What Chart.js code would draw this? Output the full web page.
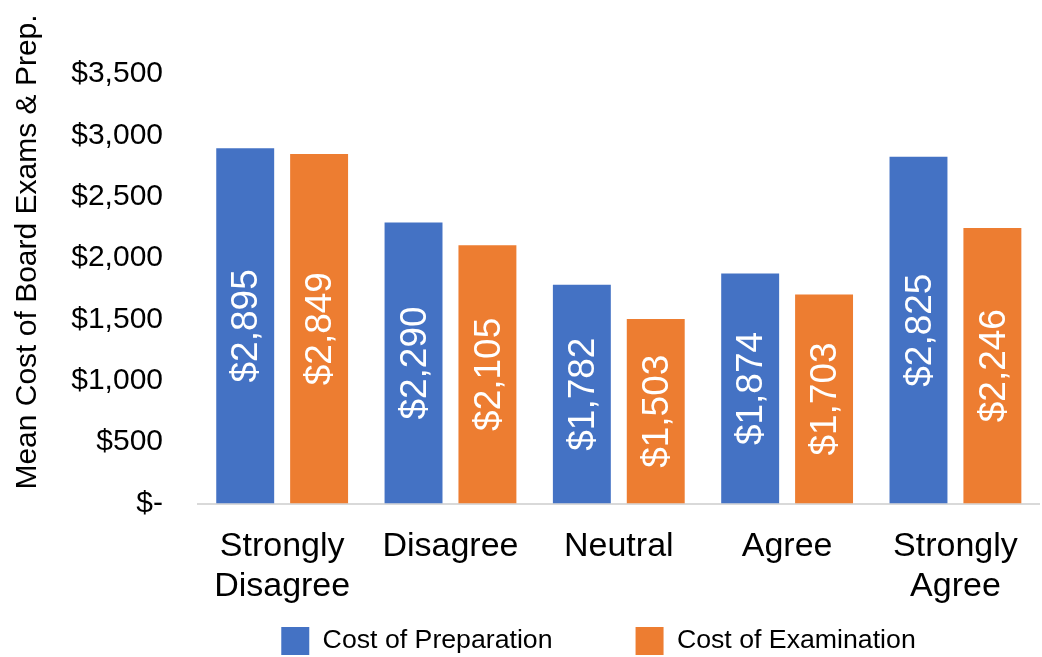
<!DOCTYPE html>
<html><head><meta charset="utf-8">
<script src="https://cdn.jsdelivr.net/npm/chart.js@4.4.0/dist/chart.umd.min.js"></script>
<style>html,body{margin:0;padding:0;background:#fff;} #wrap{width:1042px;height:657px;position:relative}</style>
</head><body><div id="wrap"><canvas id="c"></canvas></div>
<script>
const categories = [['Strongly','Disagree'], 'Disagree', 'Neutral', 'Agree', ['Strongly','Agree']];
const seriesNames = ['Cost of Preparation', 'Cost of Examination'];
const preparation = [2895, 2290, 1782, 1874, 2825];
const examination = [2849, 2105, 1503, 1703, 2246];
const yTickValues = [0, 500, 1000, 1500, 2000, 2500, 3000, 3500];
const yAxisTitle = 'Mean Cost of Board Exams & Prep.';
const seriesColors = ['#4472C4', '#ED7D31'];
const FONT = "'Liberation Sans', Arial, sans-serif";

function money(v) { return v === 0 ? '$-' : '$' + Number(v).toLocaleString('en-US'); }

const legendShift = {
  id: 'legendShift',
  afterLayout(chart) {
    const lg = chart.legend;
    if (!lg) return;
    lg.left = 155; lg.right = 1042;
    lg.top = 544; lg.bottom = 657;
    lg.width = lg.right - lg.left;
    lg.height = lg.bottom - lg.top;
  }
};

const barLabels = {
  id: 'barLabels',
  afterDatasetsDraw(chart) {
    const ctx = chart.ctx;
    ctx.save();
    ctx.fillStyle = '#ffffff';
    ctx.font = '37px ' + FONT;
    ctx.textAlign = 'center';
    ctx.textBaseline = 'middle';
    chart.data.datasets.forEach((ds, di) => {
      const meta = chart.getDatasetMeta(di);
      meta.data.forEach((bar, i) => {
        const cy = (bar.y + bar.base) / 2;
        ctx.save();
        ctx.translate(bar.x, cy);
        ctx.rotate(-Math.PI / 2);
        ctx.fillText(money(ds.data[i]), 0, 2);
        ctx.restore();
      });
    });
    ctx.restore();
  }
};

const yTitle = {
  id: 'yTitle',
  afterDraw(chart) {
    const ctx = chart.ctx;
    ctx.save();
    ctx.fillStyle = '#000000';
    ctx.font = '30px ' + FONT;
    ctx.textAlign = 'center';
    ctx.textBaseline = 'middle';
    ctx.translate(28, 252);
    ctx.rotate(-Math.PI / 2);
    ctx.fillText(yAxisTitle, 0, 0);
    ctx.restore();
  }
};

new Chart(document.getElementById('c'), {
  type: 'bar',
  data: {
    labels: categories,
    datasets: [
      { label: seriesNames[0], data: preparation, backgroundColor: seriesColors[0], borderWidth: 0,
        categoryPercentage: 0.878, barPercentage: 0.784 },
      { label: seriesNames[1], data: examination, backgroundColor: seriesColors[1], borderWidth: 0,
        categoryPercentage: 0.878, barPercentage: 0.784 }
    ]
  },
  options: {
    responsive: true,
    maintainAspectRatio: false,
    animation: false,
    devicePixelRatio: 1,
    layout: { padding: { top: 74, left: 0, right: 2, bottom: 0 } },
    plugins: {
      legend: {
        position: 'bottom',
        maxHeight: 38,
        labels: {
          boxWidth: 28, boxHeight: 28, padding: 83,
          color: '#000', font: { size: 26.7, family: FONT }
        }
      },
      tooltip: { enabled: false }
    },
    scales: {
      x: {
        grid: { display: false, drawTicks: false },
        border: { display: true, color: '#D9D9D9', width: 2 },
        ticks: { color: '#000', font: { size: 34, family: FONT, lineHeight: 1.15 }, padding: 24, maxRotation: 0, autoSkip: false },
        afterFit(scale) { scale.height = 115.5; }
      },
      y: {
        min: 0, max: 3500,
        grid: { display: false, drawTicks: false },
        border: { display: false },
        afterBuildTicks(scale) { scale.ticks = yTickValues.map(v => ({ value: v })); },
        ticks: { color: '#000', font: { size: 30, family: FONT }, padding: 35, callback: (v) => money(v) },
        afterFit(scale) { scale.width = 198; }
      }
    }
  },
  plugins: [legendShift, barLabels, yTitle]
});
</script>
</body></html>
